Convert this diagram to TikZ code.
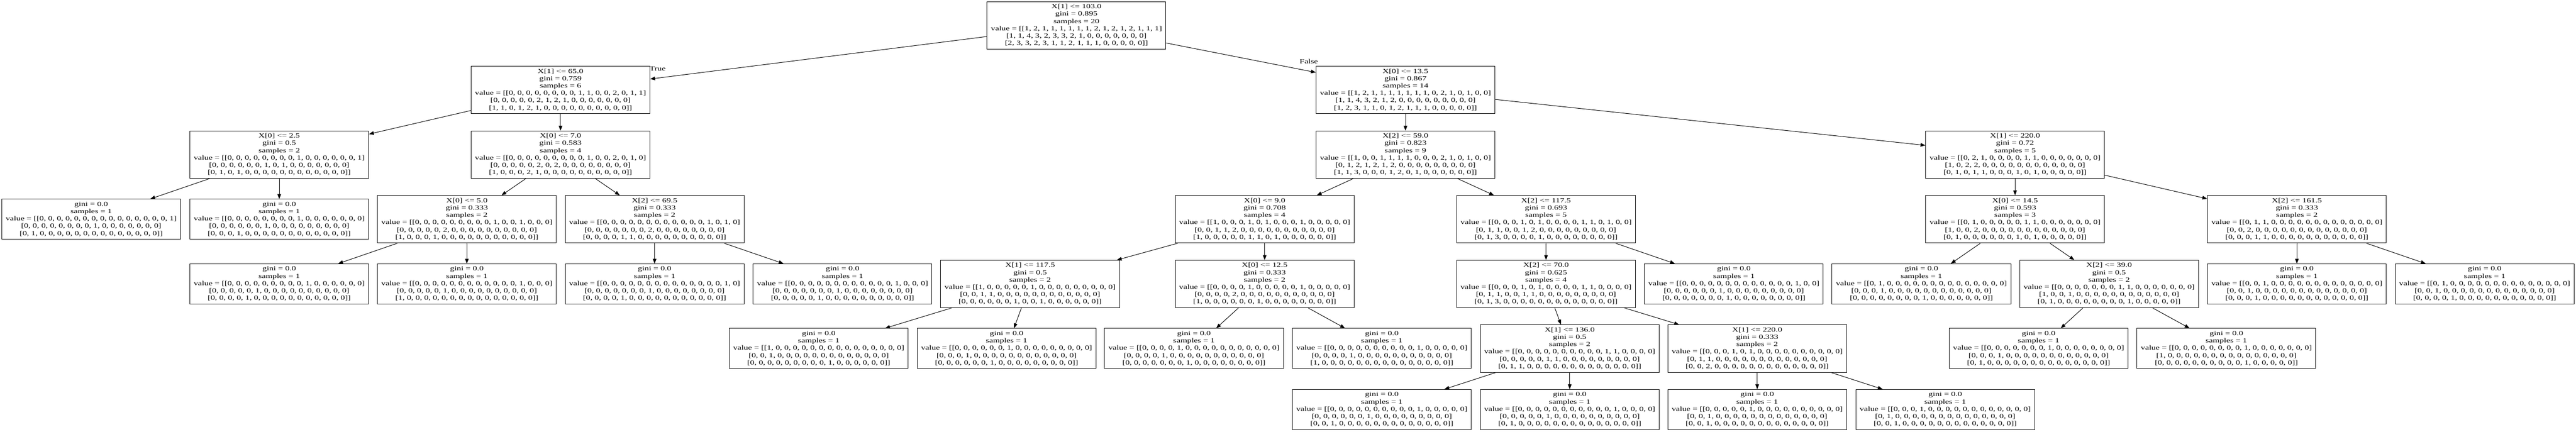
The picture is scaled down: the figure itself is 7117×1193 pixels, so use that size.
\documentclass[tikz,border=0pt]{standalone}
\usepackage{fontspec}
\setmainfont{Liberation Serif}
\usepackage{graphicx}
\usetikzlibrary{arrows.meta}
\newcommand{\nodetxt}[1]{\scalebox{1.3687}[1]{\begin{tabular}{@{}c@{}}#1\end{tabular}}}
\newcommand{\treefont}{\fontsize{17.5}{20.2}\selectfont}
\begin{document}
\begin{tikzpicture}[x=1pt,y=-1pt,
  tnode/.style={draw, line width=1.4pt, minimum width=494pt, minimum height=131pt, inner sep=0pt, font=\treefont},
  tleaf/.style={tnode, minimum height=111pt},
  conn/.style={line width=1.4pt, -{Triangle[length=13.5pt,width=10pt]}},
  elabel/.style={inner sep=0pt, font=\treefont}]
\fill[white] (0,0) rectangle (7117,1193);
\useasboundingbox (0,0) rectangle (7117,1193);

% level 0
\node[tnode] (nR) at (2974,70.2) {\nodetxt{X[1] <= 103.0\\gini = 0.895\\samples = 20\\value = [[1, 2, 1, 1, 1, 1, 1, 1, 2, 1, 2, 1, 2, 1, 1, 1]\\{[}1, 1, 4, 3, 2, 3, 3, 2, 1, 0, 0, 0, 0, 0, 0, 0]\\{[}2, 3, 3, 2, 3, 1, 1, 2, 1, 1, 1, 0, 0, 0, 0, 0]]}};

% level 1
\node[tnode] (nA) at (1548.6,248.8) {\nodetxt{X[1] <= 65.0\\gini = 0.759\\samples = 6\\value = [[0, 0, 0, 0, 0, 0, 0, 0, 1, 1, 0, 0, 2, 0, 1, 1]\\{[}0, 0, 0, 0, 0, 2, 1, 2, 1, 0, 0, 0, 0, 0, 0, 0]\\{[}1, 1, 0, 1, 2, 1, 0, 0, 0, 0, 0, 0, 0, 0, 0, 0]]}};
\node[tnode] (nB) at (3883,248.8) {\nodetxt{X[0] <= 13.5\\gini = 0.867\\samples = 14\\value = [[1, 2, 1, 1, 1, 1, 1, 1, 1, 0, 2, 1, 0, 1, 0, 0]\\{[}1, 1, 4, 3, 2, 1, 2, 0, 0, 0, 0, 0, 0, 0, 0, 0]\\{[}1, 2, 3, 1, 1, 0, 1, 2, 1, 1, 1, 0, 0, 0, 0, 0]]}};

% level 2
\node[tnode] (nC) at (771.5,427.5) {\nodetxt{X[0] <= 2.5\\gini = 0.5\\samples = 2\\value = [[0, 0, 0, 0, 0, 0, 0, 0, 1, 0, 0, 0, 0, 0, 0, 1]\\{[}0, 0, 0, 0, 0, 0, 1, 0, 1, 0, 0, 0, 0, 0, 0, 0]\\{[}0, 1, 0, 1, 0, 0, 0, 0, 0, 0, 0, 0, 0, 0, 0, 0]]}};
\node[tnode] (nD) at (1548.6,427.5) {\nodetxt{X[0] <= 7.0\\gini = 0.583\\samples = 4\\value = [[0, 0, 0, 0, 0, 0, 0, 0, 0, 1, 0, 0, 2, 0, 1, 0]\\{[}0, 0, 0, 0, 0, 2, 0, 2, 0, 0, 0, 0, 0, 0, 0, 0]\\{[}1, 0, 0, 0, 2, 1, 0, 0, 0, 0, 0, 0, 0, 0, 0, 0]]}};
\node[tnode] (nG) at (3883,427.5) {\nodetxt{X[2] <= 59.0\\gini = 0.823\\samples = 9\\value = [[1, 0, 0, 1, 1, 1, 1, 0, 0, 0, 2, 1, 0, 1, 0, 0]\\{[}0, 1, 2, 1, 2, 1, 2, 0, 0, 0, 0, 0, 0, 0, 0, 0]\\{[}1, 1, 3, 0, 0, 0, 1, 2, 0, 1, 0, 0, 0, 0, 0, 0]]}};
\node[tnode] (nH) at (5567.2,427.5) {\nodetxt{X[1] <= 220.0\\gini = 0.72\\samples = 5\\value = [[0, 2, 1, 0, 0, 0, 0, 1, 1, 0, 0, 0, 0, 0, 0, 0]\\{[}1, 0, 2, 2, 0, 0, 0, 0, 0, 0, 0, 0, 0, 0, 0, 0]\\{[}0, 1, 0, 1, 1, 0, 0, 0, 1, 0, 1, 0, 0, 0, 0, 0]]}};

% level 3
\node[tleaf] (lC1) at (252,606.2) {\nodetxt{gini = 0.0\\samples = 1\\value = [[0, 0, 0, 0, 0, 0, 0, 0, 0, 0, 0, 0, 0, 0, 0, 1]\\{[}0, 0, 0, 0, 0, 0, 0, 0, 1, 0, 0, 0, 0, 0, 0, 0]\\{[}0, 1, 0, 0, 0, 0, 0, 0, 0, 0, 0, 0, 0, 0, 0, 0]]}};
\node[tleaf] (lC2) at (771.5,606.2) {\nodetxt{gini = 0.0\\samples = 1\\value = [[0, 0, 0, 0, 0, 0, 0, 0, 1, 0, 0, 0, 0, 0, 0, 0]\\{[}0, 0, 0, 0, 0, 0, 1, 0, 0, 0, 0, 0, 0, 0, 0, 0]\\{[}0, 0, 0, 1, 0, 0, 0, 0, 0, 0, 0, 0, 0, 0, 0, 0]]}};
\node[tnode] (nE) at (1289.8,606.2) {\nodetxt{X[0] <= 5.0\\gini = 0.333\\samples = 2\\value = [[0, 0, 0, 0, 0, 0, 0, 0, 0, 1, 0, 0, 1, 0, 0, 0]\\{[}0, 0, 0, 0, 0, 2, 0, 0, 0, 0, 0, 0, 0, 0, 0, 0]\\{[}1, 0, 0, 0, 1, 0, 0, 0, 0, 0, 0, 0, 0, 0, 0, 0]]}};
\node[tnode] (nF) at (1808.5,606.2) {\nodetxt{X[2] <= 69.5\\gini = 0.333\\samples = 2\\value = [[0, 0, 0, 0, 0, 0, 0, 0, 0, 0, 0, 0, 1, 0, 1, 0]\\{[}0, 0, 0, 0, 0, 0, 0, 2, 0, 0, 0, 0, 0, 0, 0, 0]\\{[}0, 0, 0, 0, 1, 1, 0, 0, 0, 0, 0, 0, 0, 0, 0, 0]]}};
\node[tnode] (nI) at (3494,606.2) {\nodetxt{X[0] <= 9.0\\gini = 0.708\\samples = 4\\value = [[1, 0, 0, 0, 1, 0, 1, 0, 0, 0, 1, 0, 0, 0, 0, 0]\\{[}0, 0, 1, 1, 2, 0, 0, 0, 0, 0, 0, 0, 0, 0, 0, 0]\\{[}1, 0, 0, 0, 0, 0, 1, 1, 0, 1, 0, 0, 0, 0, 0, 0]]}};
\node[tnode] (nJ) at (4271.4,606.2) {\nodetxt{X[2] <= 117.5\\gini = 0.693\\samples = 5\\value = [[0, 0, 0, 1, 0, 1, 0, 0, 0, 0, 1, 1, 0, 1, 0, 0]\\{[}0, 1, 1, 0, 0, 1, 2, 0, 0, 0, 0, 0, 0, 0, 0, 0]\\{[}0, 1, 3, 0, 0, 0, 0, 1, 0, 0, 0, 0, 0, 0, 0, 0]]}};
\node[tnode] (nK) at (5567.2,606.2) {\nodetxt{X[0] <= 14.5\\gini = 0.593\\samples = 3\\value = [[0, 1, 0, 0, 0, 0, 0, 1, 1, 0, 0, 0, 0, 0, 0, 0]\\{[}1, 0, 0, 2, 0, 0, 0, 0, 0, 0, 0, 0, 0, 0, 0, 0]\\{[}0, 1, 0, 0, 0, 0, 0, 0, 1, 0, 1, 0, 0, 0, 0, 0]]}};
\node[tnode] (nL) at (6345.8,606.2) {\nodetxt{X[2] <= 161.5\\gini = 0.333\\samples = 2\\value = [[0, 1, 1, 0, 0, 0, 0, 0, 0, 0, 0, 0, 0, 0, 0, 0]\\{[}0, 0, 2, 0, 0, 0, 0, 0, 0, 0, 0, 0, 0, 0, 0, 0]\\{[}0, 0, 0, 1, 1, 0, 0, 0, 0, 0, 0, 0, 0, 0, 0, 0]]}};

% level 4
\node[tleaf] (lE1) at (771.5,785) {\nodetxt{gini = 0.0\\samples = 1\\value = [[0, 0, 0, 0, 0, 0, 0, 0, 0, 1, 0, 0, 0, 0, 0, 0]\\{[}0, 0, 0, 0, 0, 1, 0, 0, 0, 0, 0, 0, 0, 0, 0, 0]\\{[}0, 0, 0, 0, 1, 0, 0, 0, 0, 0, 0, 0, 0, 0, 0, 0]]}};
\node[tleaf] (lE2) at (1289.8,785) {\nodetxt{gini = 0.0\\samples = 1\\value = [[0, 0, 0, 0, 0, 0, 0, 0, 0, 0, 0, 0, 1, 0, 0, 0]\\{[}0, 0, 0, 0, 0, 1, 0, 0, 0, 0, 0, 0, 0, 0, 0, 0]\\{[}1, 0, 0, 0, 0, 0, 0, 0, 0, 0, 0, 0, 0, 0, 0, 0]]}};
\node[tleaf] (lF1) at (1808.5,785) {\nodetxt{gini = 0.0\\samples = 1\\value = [[0, 0, 0, 0, 0, 0, 0, 0, 0, 0, 0, 0, 0, 0, 1, 0]\\{[}0, 0, 0, 0, 0, 0, 0, 1, 0, 0, 0, 0, 0, 0, 0, 0]\\{[}0, 0, 0, 0, 1, 0, 0, 0, 0, 0, 0, 0, 0, 0, 0, 0]]}};
\node[tleaf] (lF2) at (2327.8,785) {\nodetxt{gini = 0.0\\samples = 1\\value = [[0, 0, 0, 0, 0, 0, 0, 0, 0, 0, 0, 0, 1, 0, 0, 0]\\{[}0, 0, 0, 0, 0, 0, 0, 1, 0, 0, 0, 0, 0, 0, 0, 0]\\{[}0, 0, 0, 0, 0, 1, 0, 0, 0, 0, 0, 0, 0, 0, 0, 0]]}};
\node[tnode] (nM) at (2846,785) {\nodetxt{X[1] <= 117.5\\gini = 0.5\\samples = 2\\value = [[1, 0, 0, 0, 0, 0, 1, 0, 0, 0, 0, 0, 0, 0, 0, 0]\\{[}0, 0, 1, 1, 0, 0, 0, 0, 0, 0, 0, 0, 0, 0, 0, 0]\\{[}0, 0, 0, 0, 0, 0, 1, 0, 0, 1, 0, 0, 0, 0, 0, 0]]}};
\node[tnode] (nN) at (3494,785) {\nodetxt{X[0] <= 12.5\\gini = 0.333\\samples = 2\\value = [[0, 0, 0, 0, 1, 0, 0, 0, 0, 0, 1, 0, 0, 0, 0, 0]\\{[}0, 0, 0, 0, 2, 0, 0, 0, 0, 0, 0, 0, 0, 0, 0, 0]\\{[}1, 0, 0, 0, 0, 0, 0, 1, 0, 0, 0, 0, 0, 0, 0, 0]]}};
\node[tnode] (nO) at (4271.3,785) {\nodetxt{X[2] <= 70.0\\gini = 0.625\\samples = 4\\value = [[0, 0, 0, 1, 0, 1, 0, 0, 0, 0, 1, 1, 0, 0, 0, 0]\\{[}0, 1, 1, 0, 0, 1, 1, 0, 0, 0, 0, 0, 0, 0, 0, 0]\\{[}0, 1, 3, 0, 0, 0, 0, 0, 0, 0, 0, 0, 0, 0, 0, 0]]}};
\node[tleaf] (lJ2) at (4790.3,785) {\nodetxt{gini = 0.0\\samples = 1\\value = [[0, 0, 0, 0, 0, 0, 0, 0, 0, 0, 0, 0, 0, 1, 0, 0]\\{[}0, 0, 0, 0, 0, 0, 1, 0, 0, 0, 0, 0, 0, 0, 0, 0]\\{[}0, 0, 0, 0, 0, 0, 0, 1, 0, 0, 0, 0, 0, 0, 0, 0]]}};
\node[tleaf] (lK1) at (5308.5,785) {\nodetxt{gini = 0.0\\samples = 1\\value = [[0, 1, 0, 0, 0, 0, 0, 0, 0, 0, 0, 0, 0, 0, 0, 0]\\{[}0, 0, 0, 1, 0, 0, 0, 0, 0, 0, 0, 0, 0, 0, 0, 0]\\{[}0, 0, 0, 0, 0, 0, 0, 0, 1, 0, 0, 0, 0, 0, 0, 0]]}};
\node[tnode] (nS) at (5827,785) {\nodetxt{X[2] <= 39.0\\gini = 0.5\\samples = 2\\value = [[0, 0, 0, 0, 0, 0, 0, 1, 1, 0, 0, 0, 0, 0, 0, 0]\\{[}1, 0, 0, 1, 0, 0, 0, 0, 0, 0, 0, 0, 0, 0, 0, 0]\\{[}0, 1, 0, 0, 0, 0, 0, 0, 0, 0, 1, 0, 0, 0, 0, 0]]}};
\node[tleaf] (lL1) at (6345.8,785) {\nodetxt{gini = 0.0\\samples = 1\\value = [[0, 0, 1, 0, 0, 0, 0, 0, 0, 0, 0, 0, 0, 0, 0, 0]\\{[}0, 0, 1, 0, 0, 0, 0, 0, 0, 0, 0, 0, 0, 0, 0, 0]\\{[}0, 0, 0, 1, 0, 0, 0, 0, 0, 0, 0, 0, 0, 0, 0, 0]]}};
\node[tleaf] (lL2) at (6864.6,785) {\nodetxt{gini = 0.0\\samples = 1\\value = [[0, 1, 0, 0, 0, 0, 0, 0, 0, 0, 0, 0, 0, 0, 0, 0]\\{[}0, 0, 1, 0, 0, 0, 0, 0, 0, 0, 0, 0, 0, 0, 0, 0]\\{[}0, 0, 0, 0, 1, 0, 0, 0, 0, 0, 0, 0, 0, 0, 0, 0]]}};

% level 5
\node[tleaf] (lM1) at (2262,963.6) {\nodetxt{gini = 0.0\\samples = 1\\value = [[1, 0, 0, 0, 0, 0, 0, 0, 0, 0, 0, 0, 0, 0, 0, 0]\\{[}0, 0, 1, 0, 0, 0, 0, 0, 0, 0, 0, 0, 0, 0, 0, 0]\\{[}0, 0, 0, 0, 0, 0, 0, 0, 0, 1, 0, 0, 0, 0, 0, 0]]}};
\node[tleaf] (lM2) at (2781,963.6) {\nodetxt{gini = 0.0\\samples = 1\\value = [[0, 0, 0, 0, 0, 0, 1, 0, 0, 0, 0, 0, 0, 0, 0, 0]\\{[}0, 0, 0, 1, 0, 0, 0, 0, 0, 0, 0, 0, 0, 0, 0, 0]\\{[}0, 0, 0, 0, 0, 0, 1, 0, 0, 0, 0, 0, 0, 0, 0, 0]]}};
\node[tleaf] (lN1) at (3298.7,963.6) {\nodetxt{gini = 0.0\\samples = 1\\value = [[0, 0, 0, 0, 1, 0, 0, 0, 0, 0, 0, 0, 0, 0, 0, 0]\\{[}0, 0, 0, 0, 1, 0, 0, 0, 0, 0, 0, 0, 0, 0, 0, 0]\\{[}0, 0, 0, 0, 0, 0, 0, 1, 0, 0, 0, 0, 0, 0, 0, 0]]}};
\node[tleaf] (lN2) at (3817.7,963.6) {\nodetxt{gini = 0.0\\samples = 1\\value = [[0, 0, 0, 0, 0, 0, 0, 0, 0, 0, 1, 0, 0, 0, 0, 0]\\{[}0, 0, 0, 0, 1, 0, 0, 0, 0, 0, 0, 0, 0, 0, 0, 0]\\{[}1, 0, 0, 0, 0, 0, 0, 0, 0, 0, 0, 0, 0, 0, 0, 0]]}};
\node[tnode] (nP) at (4336.8,963.6) {\nodetxt{X[1] <= 136.0\\gini = 0.5\\samples = 2\\value = [[0, 0, 0, 0, 0, 0, 0, 0, 0, 0, 1, 1, 0, 0, 0, 0]\\{[}0, 0, 0, 0, 0, 1, 1, 0, 0, 0, 0, 0, 0, 0, 0, 0]\\{[}0, 1, 1, 0, 0, 0, 0, 0, 0, 0, 0, 0, 0, 0, 0, 0]]}};
\node[tnode] (nQ) at (4854.8,963.6) {\nodetxt{X[1] <= 220.0\\gini = 0.333\\samples = 2\\value = [[0, 0, 0, 1, 0, 1, 0, 0, 0, 0, 0, 0, 0, 0, 0, 0]\\{[}0, 1, 1, 0, 0, 0, 0, 0, 0, 0, 0, 0, 0, 0, 0, 0]\\{[}0, 0, 2, 0, 0, 0, 0, 0, 0, 0, 0, 0, 0, 0, 0, 0]]}};
\node[tleaf] (lS1) at (5632.3,963.6) {\nodetxt{gini = 0.0\\samples = 1\\value = [[0, 0, 0, 0, 0, 0, 0, 1, 0, 0, 0, 0, 0, 0, 0, 0]\\{[}0, 0, 0, 1, 0, 0, 0, 0, 0, 0, 0, 0, 0, 0, 0, 0]\\{[}0, 1, 0, 0, 0, 0, 0, 0, 0, 0, 0, 0, 0, 0, 0, 0]]}};
\node[tleaf] (lS2) at (6151,963.6) {\nodetxt{gini = 0.0\\samples = 1\\value = [[0, 0, 0, 0, 0, 0, 0, 0, 1, 0, 0, 0, 0, 0, 0, 0]\\{[}1, 0, 0, 0, 0, 0, 0, 0, 0, 0, 0, 0, 0, 0, 0, 0]\\{[}0, 0, 0, 0, 0, 0, 0, 0, 0, 0, 1, 0, 0, 0, 0, 0]]}};

% level 6
\node[tleaf] (lP1) at (3817.7,1132.2) {\nodetxt{gini = 0.0\\samples = 1\\value = [[0, 0, 0, 0, 0, 0, 0, 0, 0, 0, 1, 0, 0, 0, 0, 0]\\{[}0, 0, 0, 0, 0, 0, 1, 0, 0, 0, 0, 0, 0, 0, 0, 0]\\{[}0, 0, 1, 0, 0, 0, 0, 0, 0, 0, 0, 0, 0, 0, 0, 0]]}};
\node[tleaf] (lP2) at (4336.8,1132.2) {\nodetxt{gini = 0.0\\samples = 1\\value = [[0, 0, 0, 0, 0, 0, 0, 0, 0, 0, 0, 1, 0, 0, 0, 0]\\{[}0, 0, 0, 0, 0, 1, 0, 0, 0, 0, 0, 0, 0, 0, 0, 0]\\{[}0, 1, 0, 0, 0, 0, 0, 0, 0, 0, 0, 0, 0, 0, 0, 0]]}};
\node[tleaf] (lQ1) at (4854.8,1132.2) {\nodetxt{gini = 0.0\\samples = 1\\value = [[0, 0, 0, 0, 0, 1, 0, 0, 0, 0, 0, 0, 0, 0, 0, 0]\\{[}0, 0, 1, 0, 0, 0, 0, 0, 0, 0, 0, 0, 0, 0, 0, 0]\\{[}0, 0, 1, 0, 0, 0, 0, 0, 0, 0, 0, 0, 0, 0, 0, 0]]}};
\node[tleaf] (lQ2) at (5374.3,1132.2) {\nodetxt{gini = 0.0\\samples = 1\\value = [[0, 0, 0, 1, 0, 0, 0, 0, 0, 0, 0, 0, 0, 0, 0, 0]\\{[}0, 1, 0, 0, 0, 0, 0, 0, 0, 0, 0, 0, 0, 0, 0, 0]\\{[}0, 0, 1, 0, 0, 0, 0, 0, 0, 0, 0, 0, 0, 0, 0, 0]]}};

% edge labels
\node[elabel] (tTrue) at (1817,190.4) {\scalebox{1.3687}[1]{True}};
\node[elabel] (tFalse) at (3616,170) {\scalebox{1.3687}[1]{False}};

% connectors
\draw[conn] (nR) -- (nA);
\draw[conn] (nR) -- (nB);
\draw[conn] (nA) -- (nC);
\draw[conn] (nA) -- (nD);
\draw[conn] (nC) -- (lC1);
\draw[conn] (nC) -- (lC2);
\draw[conn] (nD) -- (nE);
\draw[conn] (nD) -- (nF);
\draw[conn] (nE) -- (lE1);
\draw[conn] (nE) -- (lE2);
\draw[conn] (nF) -- (lF1);
\draw[conn] (nF) -- (lF2);
\draw[conn] (nB) -- (nG);
\draw[conn] (nB) -- (nH);
\draw[conn] (nG) -- (nI);
\draw[conn] (nG) -- (nJ);
\draw[conn] (nI) -- (nM);
\draw[conn] (nI) -- (nN);
\draw[conn] (nM) -- (lM1);
\draw[conn] (nM) -- (lM2);
\draw[conn] (nN) -- (lN1);
\draw[conn] (nN) -- (lN2);
\draw[conn] (nJ) -- (nO);
\draw[conn] (nJ) -- (lJ2);
\draw[conn] (nO) -- (nP);
\draw[conn] (nO) -- (nQ);
\draw[conn] (nP) -- (lP1);
\draw[conn] (nP) -- (lP2);
\draw[conn] (nQ) -- (lQ1);
\draw[conn] (nQ) -- (lQ2);
\draw[conn] (nH) -- (nK);
\draw[conn] (nH) -- (nL);
\draw[conn] (nK) -- (lK1);
\draw[conn] (nK) -- (nS);
\draw[conn] (nS) -- (lS1);
\draw[conn] (nS) -- (lS2);
\draw[conn] (nL) -- (lL1);
\draw[conn] (nL) -- (lL2);
\end{tikzpicture}
\end{document}
